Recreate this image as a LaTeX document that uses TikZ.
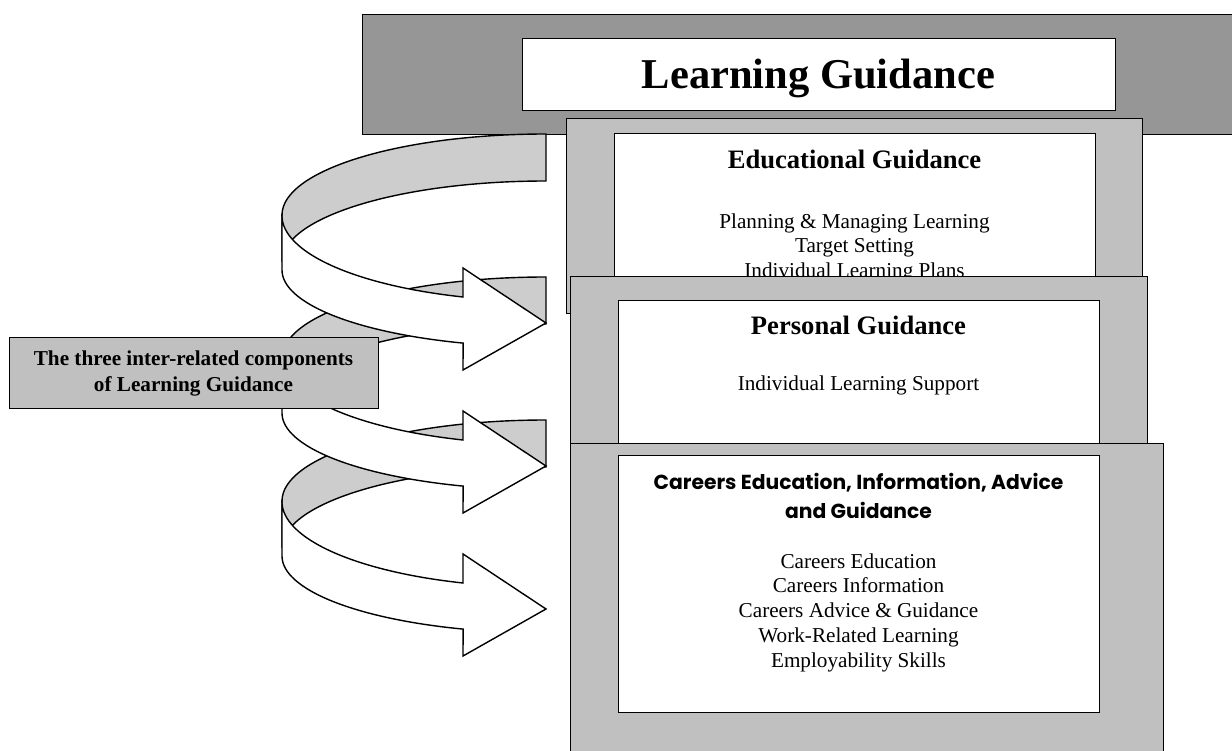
\documentclass[tikz,border=0pt]{standalone}
\usepackage{fontspec}
\setmainfont{Liberation Serif}
\newfontfamily\comicfont{Poppins}
\definecolor{headgray}{HTML}{969696}
\definecolor{boxgray}{HTML}{C0C0C0}
\definecolor{ribbongray}{HTML}{CDCDCD}
\newcommand\lgribbon[1]{%
  \draw[ribbonback] (546,#1) arc[start angle=270,end angle=180,x radius=264,y radius=81]
     -- ++(0,47) arc[start angle=180,end angle=270,x radius=264,y radius=81] -- cycle;
  \draw[ribbonfront] (282,#1+81) -- ++(0,55)
     arc[start angle=180,end angle=108.3,x radius=264,y radius=77]
     -- (463,#1+236) -- (546,#1+189) -- (463,#1+134) -- (463,#1+163)
     arc[start angle=108.3,end angle=180,x radius=264,y radius=86] -- cycle;
}
\begin{document}
\begin{tikzpicture}[x=1pt,y=-1pt,
  box/.style={draw=black, line width=1.3pt, inner sep=0pt, anchor=north west},
  ribbonback/.style={draw=black, line width=1.4pt, fill=ribbongray},
  ribbonfront/.style={draw=black, line width=1.4pt, fill=white},
  txt/.style={inner sep=0pt, anchor=base}]
\clip (0,0) rectangle (1232,751);
\fill[white] (0,0) rectangle (1232,751);

% header
\node[box, fill=headgray, minimum width=883pt, minimum height=120pt] (headback) at (362,14) {};
\node[box, fill=white, minimum width=593pt, minimum height=72pt] (headbox) at (522,38) {};
\node[txt, font=\bfseries\fontsize{42.5}{50}\selectfont] (lgtitle) at (818.5,89) {Learning Guidance};

% ribbons
\lgribbon{420}
\lgribbon{277}
\lgribbon{134}

% educational
\node[box, fill=boxgray, minimum width=576pt, minimum height=195pt] (eduback) at (566,118) {};
\node[box, fill=white, minimum width=481pt, minimum height=267pt] (edubox) at (614,133) {};
\node[txt, font=\bfseries\fontsize{26.6}{30}\selectfont] (edutitle) at (854.5,169) {Educational Guidance};
\node[txt, font=\fontsize{21.2}{24.5}\selectfont] (edubody) at (854.5,228.5)
  {\begin{tabular}[t]{@{}c@{}}Planning \& Managing Learning\\Target Setting\\Individual Learning Plans\end{tabular}};

% personal
\node[box, fill=boxgray, minimum width=577pt, minimum height=167pt] (perback) at (570,276) {};
\node[box, fill=white, minimum width=481pt, minimum height=160pt] (perbox) at (618,300) {};
\node[txt, font=\bfseries\fontsize{26.6}{30}\selectfont] (pertitle) at (858.5,335) {Personal Guidance};
\node[txt, font=\fontsize{21.2}{24.5}\selectfont] (perbody) at (858.5,390) {Individual Learning Support};

% careers
\node[box, fill=boxgray, minimum width=593pt, minimum height=330pt] (carback) at (570,443) {};
\node[box, fill=white, minimum width=481pt, minimum height=257pt] (carbox) at (618,455) {};
\node[txt, font=\comicfont\bfseries\fontsize{20.3}{29}\selectfont] (cartitle) at (858.5,489)
  {\begin{tabular}[t]{@{}c@{}}Careers Education, Information, Advice\\and Guidance\end{tabular}};
\node[txt, font=\fontsize{21.2}{24.75}\selectfont] (carbody) at (858.5,568)
  {\begin{tabular}[t]{@{}c@{}}Careers Education\\Careers Information\\Careers Advice \& Guidance\\Work-Related Learning\\Employability Skills\end{tabular}};

% label
\node[box, fill=boxgray, minimum width=369pt, minimum height=71pt] (labelbox) at (9,337) {};
\node[txt, font=\bfseries\fontsize{21.2}{26}\selectfont] (labeltext) at (193.5,366)
  {\begin{tabular}[t]{@{}c@{}}The three inter-related components\\of Learning Guidance\end{tabular}};
\end{tikzpicture}
\end{document}
